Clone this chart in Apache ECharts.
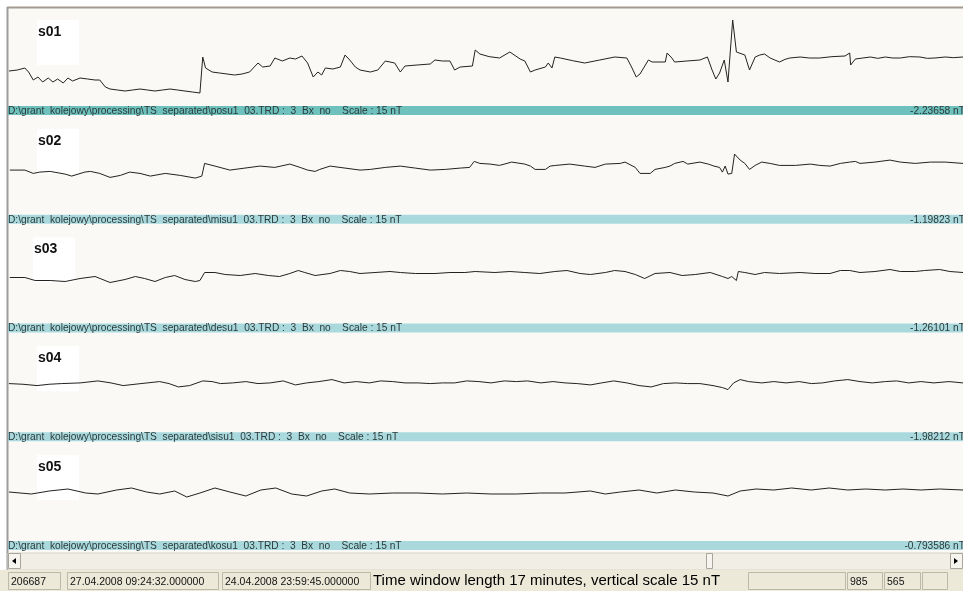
<!DOCTYPE html>
<html>
<head>
<meta charset="utf-8">
<script src="https://cdn.jsdelivr.net/npm/echarts@6/dist/echarts.min.js"></script>
<style>
  html, body { margin: 0; padding: 0; background: #ffffff; }
  #chart { width: 963px; height: 591px; }
</style>
</head>
<body>
<div id="chart"></div>
<script>
// channel names, source files and offsets shown in the bars
const channels = ['s01', 's02', 's03', 's04', 's05'];
const files = ['posu1', 'misu1', 'desu1', 'sisu1', 'kosu1'];
const offsets = ['-2.23658 nT', '-1.19823 nT', '-1.26101 nT', '-1.98212 nT', '-0.793586 nT'];

// status bar
const statusCells = ['206687', '27.04.2008 09:24:32.000000', '24.04.2008 23:59:45.000000'];
const statusTitle = 'Time window length 17 minutes, vertical scale 15 nT';
const cursorCells = ['985', '565'];

// traces: [seconds in window, nT]
const s01 = [[1,-2.25],[10,-2.1],[18,-1.8],[22,-2.4],[27,-3.6],[32,-3.15],[37,-3.9],[43,-3.3],[48,-3.9],[53,-3.45],
  [59,-4.05],[64,-3.3],[69,-3.75],[77,-3.3],[85,-3.45],[93,-3.6],[98,-3.6],[104,-4.65],[109,-4.95],[117,-5.1],
  [125,-5.25],[133,-5.1],[141,-4.95],[149,-5.1],[157,-5.25],[165,-5.1],[173,-4.95],[181,-5.1],[189,-5.25],[197,-5.4],
  [205,-5.55],[207,-5.4],[208,-0.15],[211,-1.8],[218,-2.4],[226,-2.55],[234,-2.7],[242,-2.85],[250,-2.7],[258,-2.4],
  [267,-1.05],[272,-1.65],[280,-1.5],[285,-0.3],[293,-0.75],[301,-0.3],[307,-0.45],[314,0],[320,-1.05],[326,-3.15],
  [331,-2.4],[335,-2.85],[339,-1.8],[347,-1.95],[355,-1.65],[360,0.15],[365,-0.6],[371,-1.65],[376,-2.1],[387,-2.4],
  [395,-2.1],[403,-0.75],[413,-1.05],[419,-2.4],[424,-1.5],[437,-1.35],[451,-1.2],[456,-0.6],[464,-0.75],[472,-0.75],
  [477,-2.1],[483,-1.65],[496,-1.5],[499,0.9],[504,0.3],[514,-0.1],[525,-0.3],[536,0.6],[547,-0.45],[552,-0.75],
  [558,-2.4],[563,-2.1],[574,-1.65],[577,-1.05],[581,-1.8],[584,-0.15],[590,-0.3],[603,-0.7],[616,-1.05],[632,-0.6],
  [648,-0.15],[661,-0.3],[666,-1.65],[671,-3.15],[675,-2.7],[684,-0.6],[688,-0.9],[702,-0.9],[704,0.45],[709,-0.3],
  [712,-0.9],[725,-0.75],[739,-0.6],[747,-0.15],[752,-2.1],[756,-3.45],[760,-2.55],[765,-0.6],[769,-3.9],[774,5.4],
  [778,0.6],[787,0.15],[792,-2.1],[798,-0.15],[803,0.15],[808,0.3],[814,-0.3],[824,-0.9],[830,-0.5],[835,-0.3],
  [846,-0.15],[856,-0.3],[867,-0.3],[880,-0.1],[894,0],[899,0.45],[900,-1.35],[905,-0.45],[913,-0.3],[921,-0.15],
  [929,-0.35],[937,-0.15],[945,-0.3],[953,-0.3],[963,-0.1],[974,-0.15],[982,-0.35],[990,-0.3],[1001,-0.15],[1010,-0.25],[1020,-0.15]];

const s02 = [[2,-0.8],[18,-0.8],[27,-1.3],[34,-1.1],[45,-1.0],[61,-1.4],[68,-1.7],[82,-1.1],[88,-1.0],[98,-1.3],
  [109,-1.9],[120,-1.6],[130,-1.1],[141,-1.3],[152,-1.7],[168,-1.3],[184,-1.6],[200,-2.0],[207,-1.7],[210,0.2],
  [221,-0.2],[237,-0.8],[253,-0.5],[269,-0.2],[285,-0.4],[301,0.1],[312,-0.4],[320,-0.8],[328,-1.0],[333,-0.7],
  [344,-0.2],[360,-0.5],[376,-0.8],[387,-0.7],[403,-0.4],[419,-0.2],[435,-0.5],[451,-0.8],[467,-0.7],[483,-0.5],
  [493,-0.4],[498,0.5],[504,0.2],[515,0.1],[525,-0.1],[538,0.4],[552,0.1],[558,-0.2],[563,-0.7],[574,-0.7],
  [579,-0.2],[585,-0.1],[600,0.1],[616,-0.2],[627,-0.4],[638,0.1],[654,0.2],[659,0.4],[670,-0.4],[675,-1.3],
  [686,-1.3],[691,-0.7],[702,-0.4],[707,-0.2],[712,0.2],[721,0.5],[726,0.1],[739,0.4],[748,0.1],[754,-0.2],
  [760,-0.4],[763,-1.1],[766,-0.2],[769,-1.4],[773,-1.3],[776,1.6],[782,0.7],[787,0.2],[792,-0.7],[798,-0.1],
  [805,0.4],[814,0.2],[824,-0.1],[841,-0.1],[857,0.1],[867,-0.1],[878,-0.2],[889,0.2],[899,0.4],[905,0.5],
  [910,0.2],[926,0.4],[942,0.7],[953,0.4],[969,0.2],[985,0.4],[1001,0.4],[1020,0.2]];

const s03 = [[2,-0.6],[18,-0.6],[29,-1.05],[45,-1.05],[61,-1.2],[77,-0.75],[93,-0.45],[109,-1.35],[125,-0.9],[136,-0.45],
  [146,-0.75],[157,-1.2],[168,-0.6],[178,-0.3],[189,-0.9],[200,-1.2],[205,-1.05],[210,0.15],[221,0.15],[232,-0.15],
  [248,-0.3],[264,0],[278,-0.3],[290,-0.45],[301,0],[310,0.45],[317,0.15],[328,-0.3],[344,0],[355,0.45],
  [365,0.3],[376,0],[392,0.15],[408,0.3],[419,0.15],[435,0],[456,0],[472,0.15],[488,0.15],[499,0.3],
  [520,0.15],[536,0.3],[552,0.15],[568,0],[584,0.3],[597,0.45],[611,0],[622,-0.15],[638,0.15],[648,0.45],
  [659,0.3],[670,-0.15],[680,-0.75],[691,0],[707,0.15],[720,-0.3],[734,-0.15],[750,0.15],[763,-0.45],[769,-0.75],
  [773,-0.45],[778,-1.05],[780,0.3],[787,0.15],[798,-0.15],[808,0.15],[824,0],[846,0.15],[862,0],[878,0],
  [889,0.45],[899,0.45],[910,0.15],[926,0.3],[942,0.6],[953,0.3],[969,0.3],[979,0.45],[995,0.6],[1006,0.3],[1020,0.15]];

const s04 = [[1,-0.2],[16,-0.3],[31,-0.5],[44,-0.3],[57,-0.2],[77,-0.1],[96,0.2],[110,-0.1],[123,-0.5],[142,-0.2],
  [162,0.1],[172,-0.2],[182,-0.7],[194,-0.5],[208,0.2],[218,0.1],[227,-0.2],[240,-0.1],[254,0.1],[267,-0.2],
  [280,-0.1],[294,0.2],[307,-0.4],[319,-0.1],[332,0.1],[346,0.4],[359,-0.1],[372,0.1],[386,-0.1],[398,0.2],
  [411,0.1],[424,-0.1],[438,-0.1],[451,-0.2],[464,-0.1],[477,-0.1],[490,0.2],[503,0.1],[516,-0.1],[530,0.2],
  [543,0.1],[555,0.2],[569,-0.1],[582,0.1],[595,-0.1],[608,-0.2],[622,-0.4],[634,-0.1],[647,0.2],[661,-0.1],
  [674,-0.5],[687,-0.7],[700,-0.2],[713,-0.1],[726,-0.2],[739,-0.2],[753,-0.5],[763,-0.8],[769,-1.1],[775,-0.1],
  [782,0.4],[791,0.1],[805,-0.1],[818,0.1],[831,-0.1],[845,0.1],[858,-0.2],[870,-0.1],[883,0.2],[897,0.4],
  [910,0.1],[923,-0.1],[937,0.1],[949,0.2],[962,-0.1],[975,0.1],[989,-0.1],[1005,0.1],[1020,-0.1]];

const s05 = [[1,-0.15],[25,-0.45],[44,0],[64,0.3],[83,-0.3],[96,-0.45],[116,0.15],[132,0.45],[148,-0.15],[162,-0.45],
  [178,0],[191,-0.9],[205,-0.3],[221,0.45],[237,-0.15],[254,-0.75],[270,0.15],[286,0.45],[303,-0.45],[319,-0.75],
  [335,0],[349,0.3],[365,-0.3],[386,-0.45],[411,-0.3],[438,-0.3],[464,-0.45],[490,-0.3],[516,-0.45],[543,-0.45],
  [569,-0.3],[595,-0.3],[622,0],[638,-0.45],[654,-0.15],[674,0.15],[693,-0.3],[713,0.15],[733,-0.15],[753,-0.3],
  [769,-0.75],[782,0],[799,0.3],[818,0.15],[837,0.45],[858,0.15],[877,0.45],[897,0.15],[916,0.3],[937,0.15],
  [956,0.3],[975,0.15],[995,0.3],[1020,0.15]];

const traces = [s01, s02, s03, s04, s05];

const chart = echarts.init(document.getElementById('chart'), null, { renderer: 'canvas' });

const step = 108.75;
const labelX = [38, 38, 34, 38, 38];
const grids = [], xAxes = [], yAxes = [], series = [];
const graphics = [
  // plot background and frame
  { type: 'rect', shape: { x: 8, y: 8, width: 955, height: 545 }, style: { fill: '#fbf9f6' }, z: -10 },
  { type: 'line', shape: { x1: 7, y1: 7.5, x2: 963, y2: 7.5 }, style: { stroke: '#a39a8f', lineWidth: 2 }, z: -9 },
  { type: 'line', shape: { x1: 7.5, y1: 7, x2: 7.5, y2: 570 }, style: { stroke: '#9c9c9c', lineWidth: 2 }, z: -9 },
];

traces.forEach((data, k) => {
  const top = 6 + k * step;
  grids.push({ left: 8, width: 955, top: top, height: 100 });
  xAxes.push({ type: 'value', gridIndex: k, min: 0, max: 1020, show: false });
  yAxes.push({ type: 'value', gridIndex: k, min: -7.5, max: 7.5, show: false });
  series.push({
    type: 'line', name: channels[k], xAxisIndex: k, yAxisIndex: k, data: data,
    showSymbol: false, silent: true, animation: false,
    lineStyle: { color: '#222222', width: 1 },
  });

  const barTop = 106 + k * step;
  graphics.push(
    { type: 'rect', shape: { x: labelX[k] - 1, y: 20 + k * step, width: 42, height: 45 }, style: { fill: '#ffffff' }, z: -5 },
    { type: 'text', style: { text: channels[k], x: labelX[k], y: 32 + k * step, font: 'bold 14px Arial', fill: '#111', verticalAlign: 'middle' }, z: 5 },
    { type: 'rect', shape: { x: 8, y: barTop, width: 955, height: 9 }, style: { fill: k === 0 ? '#6fc1bd' : '#aad9dd' }, z: 2 },
    { type: 'text', style: {
        text: 'D:\\grant  kolejowy\\processing\\TS  separated\\' + files[k] + '  03.TRD :  3  Bx  no    Scale : 15 nT',
        x: 8, y: barTop + 5, font: '10.2px Arial', fill: '#2a3a3a', verticalAlign: 'middle' }, z: 5 },
    { type: 'text', style: { text: offsets[k], x: 965, y: barTop + 5, font: '10.2px Arial', fill: '#2a3a3a',
        align: 'right', verticalAlign: 'middle' }, z: 5 }
  );
});

// scrollbar
graphics.push(
  { type: 'rect', shape: { x: 8, y: 553, width: 955, height: 17 }, style: { fill: '#f1eee6', stroke: '#d8d4c8' }, z: 1 },
  { type: 'rect', shape: { x: 8.5, y: 553.5, width: 12, height: 15 }, style: { fill: '#f6f4ee', stroke: '#a8a59b' }, z: 2 },
  { type: 'polygon', shape: { points: [[12, 561], [16, 558], [16, 564]] }, style: { fill: '#000' }, z: 3 },
  { type: 'rect', shape: { x: 950.5, y: 553.5, width: 12, height: 15 }, style: { fill: '#f6f4ee', stroke: '#a8a59b' }, z: 2 },
  { type: 'polygon', shape: { points: [[958, 561], [954, 558], [954, 564]] }, style: { fill: '#000' }, z: 3 },
  { type: 'rect', shape: { x: 706.5, y: 553.5, width: 6, height: 15 }, style: { fill: '#f6f4ee', stroke: '#a8a59b' }, z: 2 }
);

// status bar
graphics.push({ type: 'rect', shape: { x: 0, y: 570, width: 963, height: 21 }, style: { fill: '#ece9d8' }, z: 1 });
const cells = [[8, 60], [67, 218], [222, 370], [748, 845], [847, 882], [884, 920], [922, 947]];
cells.forEach(([a, b]) => {
  graphics.push({ type: 'rect', shape: { x: a + 0.5, y: 572.5, width: b - a, height: 17 },
    style: { fill: '#ece9d8', stroke: '#bdb9a8' }, z: 2 });
});
statusCells.forEach((t, i) => {
  graphics.push({ type: 'text', style: { text: t, x: cells[i][0] + 3, y: 582, font: '10.5px Arial', fill: '#111', verticalAlign: 'middle' }, z: 3 });
});
cursorCells.forEach((t, i) => {
  graphics.push({ type: 'text', style: { text: t, x: cells[i + 4][0] + 3, y: 582, font: '10.5px Arial', fill: '#111', verticalAlign: 'middle' }, z: 3 });
});
graphics.push({ type: 'text', style: { text: statusTitle, x: 373, y: 581, font: '15px Arial', fill: '#000', verticalAlign: 'middle' }, z: 3 });

chart.setOption({
  animation: false,
  backgroundColor: '#ffffff',
  grid: grids,
  xAxis: xAxes,
  yAxis: yAxes,
  series: series,
  graphic: graphics,
});
</script>
</body>
</html>
